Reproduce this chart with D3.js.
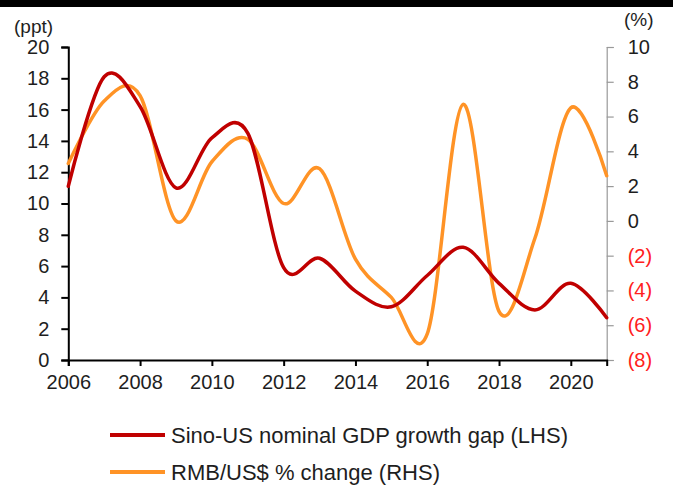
<!DOCTYPE html>
<html>
<head>
<meta charset="utf-8">
<script src="https://cdn.jsdelivr.net/npm/d3@7"></script>
<style>
  html, body { margin: 0; padding: 0; background: #fff; }
  svg text { font-family: "Liberation Sans", Arial, sans-serif; }
</style>
</head>
<body>
<svg id="chart" width="673" height="487"></svg>
<script>
// Annual observations
const years = [2006, 2007, 2008, 2009, 2010, 2011, 2012, 2013, 2014, 2015, 2016, 2017, 2018, 2019, 2020, 2021];
// Sino-US nominal GDP growth gap, ppt (left axis)
const gdpGap = [11.1, 18.1, 16.2, 11.0, 14.2, 14.5, 5.9, 6.5, 4.4, 3.4, 5.4, 7.2, 4.9, 3.2, 4.9, 2.7];
// RMB/US$ % change (right axis)
const rmbChange = [3.3, 6.9, 7.2, 0.0, 3.4, 4.7, 1.0, 3.0, -2.2, -4.4, -6.5, 6.7, -5.2, -1.0, 6.5, 2.6];

const xTicks = [2006, 2008, 2010, 2012, 2014, 2016, 2018, 2020];
const leftTicks = [0, 2, 4, 6, 8, 10, 12, 14, 16, 18, 20];
const rightTicks = [-8, -6, -4, -2, 0, 2, 4, 6, 8, 10];

const seriesNames = ["Sino-US nominal GDP growth gap (LHS)", "RMB/US$ % change (RHS)"];
const seriesColors = ["#c00000", "#ff9326"];

const svg = d3.select("#chart");
const W = 673, H = 487;
const plot = { left: 68.3, right: 606.7, top: 47, bottom: 360 };
const textColor = "#1e1e1e";

// top banner rule
svg.append("rect").attr("x", 0).attr("y", 0).attr("width", W).attr("height", 7).attr("fill", "#000");

const x = d3.scaleLinear().domain([2006, 2021]).range([plot.left, plot.right]);
const yL = d3.scaleLinear().domain([0, 20]).range([plot.bottom, plot.top]);
const yR = d3.scaleLinear().domain([-8, 10]).range([plot.bottom, plot.top]);

const fmtR = v => v < 0 ? `(${Math.abs(v)})` : `${v}`;

// left axis
const gL = svg.append("g").attr("transform", `translate(${plot.left},0)`)
  .call(d3.axisLeft(yL).tickValues(leftTicks).tickSize(7).tickPadding(12));
gL.select(".domain").attr("stroke", "#000").attr("stroke-width", 2);
gL.selectAll(".tick line").attr("stroke", "#000").attr("stroke-width", 2);
gL.selectAll(".tick text").attr("font-size", 20).attr("fill", textColor)
  .attr("font-family", "Liberation Sans, Arial, sans-serif");

// right axis
const gR = svg.append("g").attr("transform", `translate(${plot.right},0)`)
  .call(d3.axisRight(yR).tickValues(rightTicks).tickFormat(fmtR).tickSize(7).tickPadding(14));
gR.select(".domain").attr("stroke", "#999").attr("stroke-width", 1.2);
gR.selectAll(".tick line").attr("stroke", "#999").attr("stroke-width", 1.2);
gR.selectAll(".tick text").attr("font-size", 20)
  .attr("fill", d => d < 0 ? "#ff2020" : textColor)
  .attr("font-family", "Liberation Sans, Arial, sans-serif");

// bottom axis
const gX = svg.append("g").attr("transform", `translate(0,${plot.bottom})`)
  .call(d3.axisBottom(x).tickValues(xTicks).tickFormat(d3.format("d")).tickSize(6).tickPadding(9));
gX.select(".domain").attr("stroke", "#000").attr("stroke-width", 2);
gX.selectAll(".tick line").attr("stroke", "#000").attr("stroke-width", 2);
gX.selectAll(".tick text").attr("font-size", 20).attr("fill", textColor)
  .attr("font-family", "Liberation Sans, Arial, sans-serif");

// unit labels
svg.append("text").attr("x", 14).attr("y", 33).attr("font-size", 19).attr("fill", textColor).text("(ppt)");
svg.append("text").attr("x", 624).attr("y", 26).attr("font-size", 19).attr("fill", textColor).text("(%)");

// series lines
const curve = d3.curveCardinal.tension(0);
const lineL = d3.line().x((d, i) => x(years[i])).y(d => yL(d)).curve(curve);
const lineR = d3.line().x((d, i) => x(years[i])).y(d => yR(d)).curve(curve);

svg.append("path").datum(rmbChange).attr("d", lineR)
  .attr("fill", "none").attr("stroke", seriesColors[1]).attr("stroke-width", 3.5)
  .attr("stroke-linejoin", "round").attr("stroke-linecap", "round");
svg.append("path").datum(gdpGap).attr("d", lineL)
  .attr("fill", "none").attr("stroke", seriesColors[0]).attr("stroke-width", 3.5)
  .attr("stroke-linejoin", "round").attr("stroke-linecap", "round");

// legend
const legend = svg.append("g");
seriesNames.forEach((name, i) => {
  const yy = 435 + i * 37;
  legend.append("line").attr("x1", 110).attr("x2", 165).attr("y1", yy).attr("y2", yy)
    .attr("stroke", seriesColors[i]).attr("stroke-width", 4);
  legend.append("text").attr("x", 171).attr("y", yy + 8).attr("font-size", 22).attr("fill", textColor).text(name);
});
</script>
</body>
</html>
